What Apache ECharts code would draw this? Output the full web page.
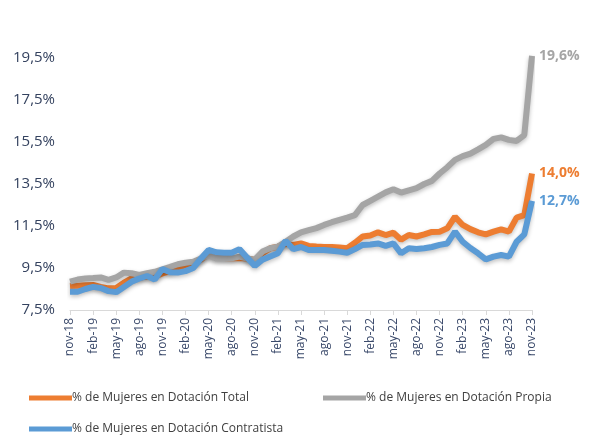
<!DOCTYPE html>
<html>
<head>
<meta charset="utf-8">
<script src="https://cdn.jsdelivr.net/npm/echarts@6/dist/echarts.min.js"></script>
<style>
  html, body { margin: 0; padding: 0; background: #fff; }
  #chart { width: 589px; height: 440px; }
</style>
</head>
<body>
<div id="chart"></div>
<script>
// monthly, nov-18 .. nov-23
var mesNames = ['ene', 'feb', 'mar', 'abr', 'may', 'jun', 'jul', 'ago', 'sep', 'oct', 'nov', 'dic'];
var months = [];
for (var k = 0; k < 61; k++) {
  var m = (10 + k) % 12;
  var y = 18 + Math.floor((10 + k) / 12);
  months.push(mesNames[m] + '-' + y);
}

var total = [
  8.64, 8.66, 8.68, 8.69, 8.60, 8.53, 8.55, 8.80, 9.00, 9.05,
  9.09, 9.10, 9.24, 9.35, 9.50, 9.64, 9.70, 9.90, 10.17, 10.00,
  9.98, 9.96, 9.98, 9.95, 9.88, 10.20, 10.44, 10.52, 10.65, 10.60,
  10.67, 10.55, 10.52, 10.50, 10.50, 10.48, 10.44, 10.70, 11.00, 11.05,
  11.20, 11.07, 11.18, 10.85, 11.07, 11.00, 11.10, 11.22, 11.23, 11.39,
  11.94, 11.55, 11.35, 11.20, 11.10, 11.23, 11.34, 11.23, 11.90, 12.02,
  14.0
];
var propia = [
  8.85, 8.95, 9.00, 9.02, 9.05, 8.93, 9.05, 9.28, 9.25, 9.17,
  9.25, 9.32, 9.44, 9.55, 9.68, 9.75, 9.80, 9.95, 10.10, 9.96,
  9.96, 9.96, 10.04, 9.95, 9.90, 10.28, 10.44, 10.52, 10.75, 11.00,
  11.20, 11.30, 11.40, 11.55, 11.68, 11.79, 11.90, 12.02, 12.50, 12.70,
  12.90, 13.10, 13.25, 13.09, 13.20, 13.30, 13.50, 13.65, 14.00, 14.30,
  14.65, 14.83, 14.95, 15.15, 15.36, 15.65, 15.72, 15.60, 15.55, 15.83,
  19.6
];
var contratista = [
  8.37, 8.37, 8.50, 8.60, 8.55, 8.40, 8.35, 8.60, 8.85, 9.00,
  9.12, 8.95, 9.45, 9.30, 9.28, 9.35, 9.50, 9.95, 10.36, 10.25,
  10.23, 10.23, 10.40, 10.00, 9.60, 9.90, 10.05, 10.20, 10.80, 10.40,
  10.50, 10.36, 10.36, 10.36, 10.32, 10.28, 10.23, 10.40, 10.60, 10.62,
  10.67, 10.55, 10.67, 10.20, 10.44, 10.40, 10.44, 10.50, 10.60, 10.67,
  11.23, 10.75, 10.45, 10.20, 9.91, 10.04, 10.12, 10.04, 10.75, 11.10,
  12.7
];

var names = [
  '% de Mujeres en Dotación Total',
  '% de Mujeres en Dotación Propia',
  '% de Mujeres en Dotación Contratista'
];
var colors = ['#ED7D31', '#A5A5A5', '#5B9BD5'];

function pct(v) {
  return v.toFixed(1).replace('.', ',') + '%';
}

function lineSeries(idx, data) {
  return {
    name: names[idx],
    type: 'line',
    data: data,
    symbol: 'none',
    smooth: false,
    lineStyle: {
      width: 6,
      color: colors[idx],
      shadowBlur: 4,
      shadowColor: 'rgba(0,0,0,0.25)',
      shadowOffsetY: 2
    },
    itemStyle: { color: colors[idx] },
    endLabel: {
      show: true,
      distance: 7,
      formatter: function (p) { return pct(p.value); },
      color: colors[idx],
      fontFamily: 'Open Sans',
      fontWeight: 'bold',
      fontSize: 14
    },
    emphasis: { disabled: true }
  };
}

var legendText = {
  color: '#404040', fontFamily: 'Open Sans', fontSize: 12,
  padding: [0, 0, 0, -5]
};

var option = {
  animation: false,
  textStyle: { fontFamily: 'Open Sans' },
  grid: { left: 70, right: 57, top: 37, bottom: 130 },
  legend: [
    {
      data: [names[0]], left: 24, top: 387, icon: 'rect',
      itemWidth: 43, itemHeight: 5, textStyle: legendText
    },
    {
      data: [names[1]], left: 318, top: 387, icon: 'rect',
      itemWidth: 43, itemHeight: 5, textStyle: legendText
    },
    {
      data: [names[2]], left: 24, top: 418, icon: 'rect',
      itemWidth: 43, itemHeight: 5, textStyle: legendText
    }
  ],
  xAxis: {
    type: 'category',
    data: months,
    boundaryGap: false,
    axisLine: { lineStyle: { color: '#D9D9D9', width: 1 } },
    axisTick: { show: true, interval: 2, length: 5, lineStyle: { color: '#D9D9D9' } },
    axisLabel: {
      interval: 2,
      rotate: 90,
      color: '#3B4A6B',
      fontSize: 12,
      margin: 8
    },
    splitLine: { show: false }
  },
  yAxis: {
    type: 'value',
    min: 7.5,
    max: 20.5,
    interval: 2,
    axisLine: { show: false },
    axisTick: { show: false },
    splitLine: { show: false },
    axisLabel: {
      showMaxLabel: false,
      color: '#34425F',
      fontSize: 15,
      margin: 15,
      formatter: function (v) { return pct(v); }
    }
  },
  series: [
    lineSeries(0, total),
    lineSeries(1, propia),
    lineSeries(2, contratista)
  ]
};

var chart = echarts.init(document.getElementById('chart'));
chart.setOption(option);
</script>
</body>
</html>
